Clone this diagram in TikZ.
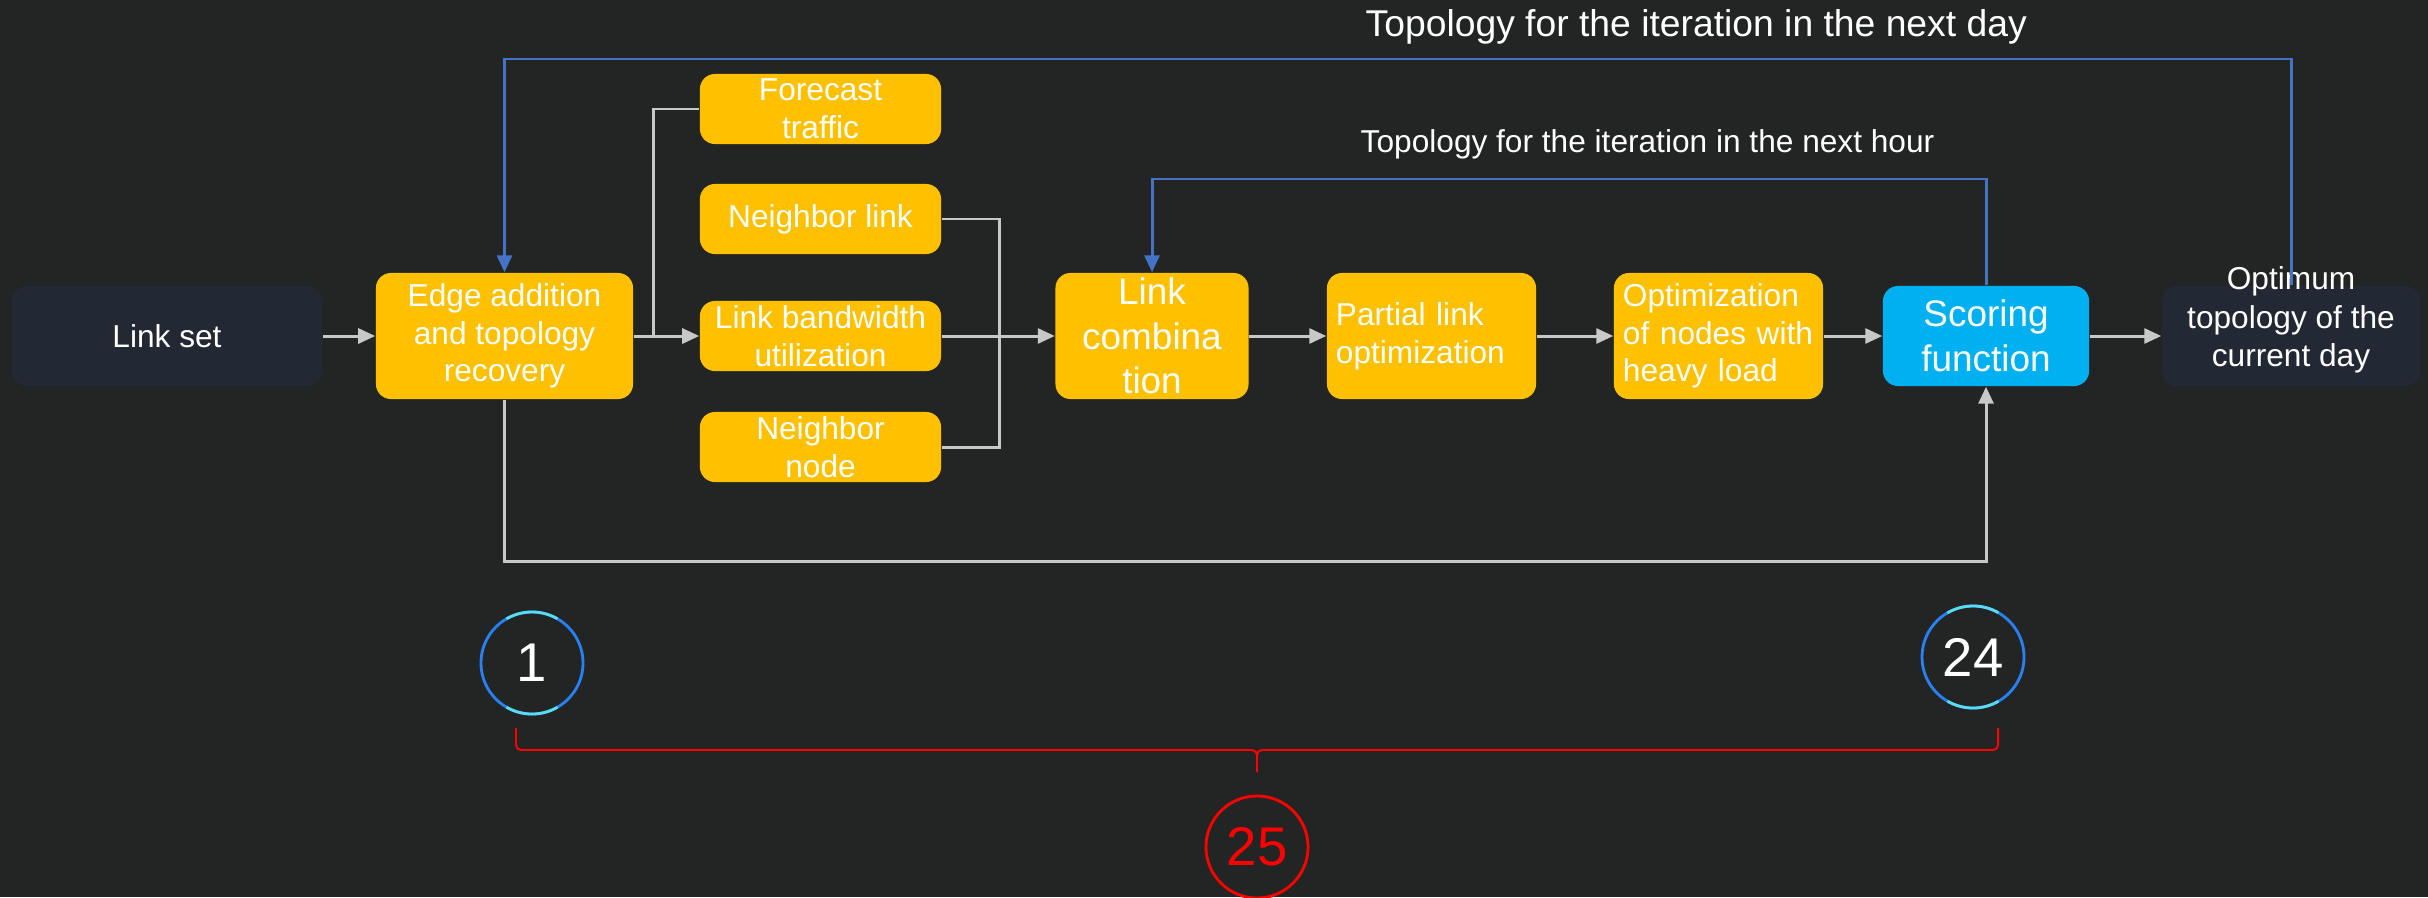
\documentclass[tikz,border=0pt]{standalone}
\usepackage{fontspec}
\setmainfont{Liberation Sans}
\usetikzlibrary{arrows.meta}

\definecolor{bgc}{RGB}{35,37,36}
\definecolor{darkbox}{RGB}{34,41,53}
\definecolor{ambr}{RGB}{255,192,0}
\definecolor{skyb}{RGB}{0,176,240}
\definecolor{lnk}{RGB}{200,200,200}
\definecolor{loopb}{RGB}{68,114,196}
\definecolor{ringb}{RGB}{40,130,245}
\definecolor{ringc}{RGB}{90,220,240}

\tikzset{
  stage/.style={rounded corners=0.15cm, fill=ambr, text=white, align=center,
    inner sep=0pt, font=\fontsize{9}{10.7}\selectfont},
  bigstage/.style={stage, font=\fontsize{10.5}{12.7}\selectfont},
  endbox/.style={stage, fill=darkbox},
  flow/.style={draw=lnk, line width=0.85pt, -{Triangle[length=0.17cm,width=0.15cm]}},
  feed/.style={draw=lnk, line width=0.85pt},
  loop/.style={draw=loopb, line width=0.85pt, -{Triangle[length=0.17cm,width=0.15cm]}},
  hourcnt/.style={circle, draw=ringb, line width=0.8pt, minimum size=1.02cm, text=white,
    inner sep=0pt, font=\fontsize{15.5}{18}\selectfont},
  ringhi/.style={ringc, line width=0.8pt}
}

\begin{document}
\begin{tikzpicture}[x=0.01cm, y=-0.01cm]

  \useasboundingbox (0,0) rectangle (2428,897);
  \fill[bgc] (0,0) rectangle (2428,897);

  \node[endbox, minimum width=3.10cm, minimum height=1.00cm] (linkset) at (167,336) {Link set};
  \node[stage, minimum width=2.57cm, minimum height=1.26cm] (edge) at (504.5,336) {Edge addition\\and topology\\recovery};

  \node[stage, minimum width=2.41cm, minimum height=0.70cm] (forecast) at (820.5,109) {Forecast\\traffic};
  \node[stage, minimum width=2.41cm, minimum height=0.70cm] (nlink) at (820.5,219) {Neighbor link};
  \node[stage, minimum width=2.41cm, minimum height=0.70cm] (lbu) at (820.5,336) {Link bandwidth\\utilization};
  \node[stage, minimum width=2.41cm, minimum height=0.70cm] (nnode) at (820.5,447) {Neighbor\\node};

  \node[bigstage, minimum width=1.93cm, minimum height=1.26cm] (comb) at (1152,336) {Link\\combina\\tion};
  \node[stage, minimum width=2.09cm, minimum height=1.26cm, text width=1.91cm, align=left] (partial) at (1431.5,336) {Partial link\\optimization};
  \node[stage, minimum width=2.09cm, minimum height=1.26cm, text width=1.91cm, align=left] (heavy) at (1718.5,336) {Optimization\\of nodes with\\heavy load};
  \node[bigstage, fill=skyb, minimum width=2.06cm, minimum height=1.00cm] (score) at (1986,336) {Scoring\\function};
  \node[endbox, minimum width=2.58cm, minimum height=1.00cm] (opt) at (2291,336) {};
  \node[text=white, align=center, inner sep=0pt, font=\fontsize{9}{10.9}\selectfont] (opttxt) at (2291,320) {Optimum\\topology of the\\current day};

  \node[anchor=base west, inner sep=0pt, text=white, font=\fontsize{10.6}{12}\selectfont] (daytxt) at (1365,37) {Topology for the iteration in the next day};
  \node[anchor=base west, inner sep=0pt, text=white, font=\fontsize{9}{11}\selectfont] (hourtxt) at (1360,152) {Topology for the iteration in the next hour};

  \coordinate (fj) at (653,336);
  \coordinate (mj) at (999,336);
  \coordinate (lowrow) at (0,561);
  \coordinate (dayrow) at (0,59);
  \coordinate (hourrow) at (0,179);

  \draw[flow] (linkset) -- (edge);
  \draw[flow] (edge) -- (lbu);
  \draw[feed] (forecast.west) -| (fj);
  \draw[feed] (nlink.east) -| (mj);
  \draw[feed] (nnode.east) -| (mj);
  \draw[flow] (lbu) -- (comb);
  \draw[flow] (comb) -- (partial);
  \draw[flow] (partial) -- (heavy);
  \draw[flow] (heavy) -- (score);
  \draw[flow] (score) -- (opt);
  \draw[flow] (edge.south) -- (edge.south |- lowrow) -| (score.south);

  \draw[loop] (opt.north) -- (opt.north |- dayrow) -| (edge.north);
  \draw[loop] (score.north) -- (score.north |- hourrow) -| (comb.north);

  \node[hourcnt] (first) at (532,663) {1};
  \node[hourcnt] (last) at (1973,657) {24};
  \node[hourcnt, draw=red, text=red] (total) at (1257,847) {25};
  \foreach \c in {first,last} {
    \begin{scope}[shift={(\c.center)}, x=1cm, y=1cm]
      \draw[ringhi] (60:0.51) arc[start angle=60, end angle=120, radius=0.51];
      \draw[ringhi] (240:0.51) arc[start angle=240, end angle=300, radius=0.51];
    \end{scope}
  }

  \draw[red, line width=0.55pt, rounded corners=0.05cm] (516,728) -- (516,750) -- (1257,750) -- (1257,772);
  \draw[red, line width=0.55pt, rounded corners=0.05cm] (1998,728) -- (1998,750) -- (1257,750) -- (1257,772);

\end{tikzpicture}
\end{document}
